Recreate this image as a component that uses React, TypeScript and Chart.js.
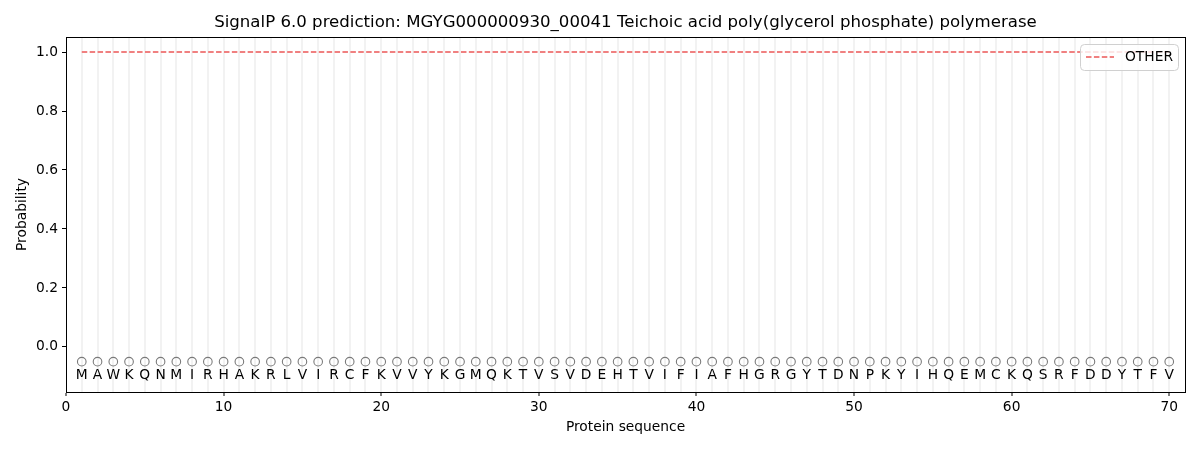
import React, { useEffect, useRef } from 'react';
import { Chart, registerables } from 'chart.js';

Chart.register(...registerables);

const TITLE = 'SignalP 6.0 prediction: MGYG000000930_00041 Teichoic acid poly(glycerol phosphate) polymerase';

const residues = [
  'M', 'A', 'W', 'K', 'Q', 'N', 'M', 'I', 'R', 'H',
  'A', 'K', 'R', 'L', 'V', 'I', 'R', 'C', 'F', 'K',
  'V', 'V', 'Y', 'K', 'G', 'M', 'Q', 'K', 'T', 'V',
  'S', 'V', 'D', 'E', 'H', 'T', 'V', 'I', 'F', 'I',
  'A', 'F', 'H', 'G', 'R', 'G', 'Y', 'T', 'D', 'N',
  'P', 'K', 'Y', 'I', 'H', 'Q', 'E', 'M', 'C', 'K',
  'Q', 'S', 'R', 'F', 'D', 'D', 'Y', 'T', 'F', 'V',
];

// probability of class OTHER per residue
const otherProb = [
  1.0, 1.0, 1.0, 1.0, 1.0, 1.0, 1.0, 1.0, 1.0, 1.0,
  1.0, 1.0, 1.0, 1.0, 1.0, 1.0, 1.0, 1.0, 1.0, 1.0,
  1.0, 1.0, 1.0, 1.0, 1.0, 1.0, 1.0, 1.0, 1.0, 1.0,
  1.0, 1.0, 1.0, 1.0, 1.0, 1.0, 1.0, 1.0, 1.0, 1.0,
  1.0, 1.0, 1.0, 1.0, 1.0, 1.0, 1.0, 1.0, 1.0, 1.0,
  1.0, 1.0, 1.0, 1.0, 1.0, 1.0, 1.0, 1.0, 1.0, 1.0,
  1.0, 1.0, 1.0, 1.0, 1.0, 1.0, 1.0, 1.0, 1.0, 1.0,
];

// open circle markers ('O' = other) under the sequence
const markerY = [
  -0.05, -0.05, -0.05, -0.05, -0.05, -0.05, -0.05, -0.05, -0.05, -0.05,
  -0.05, -0.05, -0.05, -0.05, -0.05, -0.05, -0.05, -0.05, -0.05, -0.05,
  -0.05, -0.05, -0.05, -0.05, -0.05, -0.05, -0.05, -0.05, -0.05, -0.05,
  -0.05, -0.05, -0.05, -0.05, -0.05, -0.05, -0.05, -0.05, -0.05, -0.05,
  -0.05, -0.05, -0.05, -0.05, -0.05, -0.05, -0.05, -0.05, -0.05, -0.05,
  -0.05, -0.05, -0.05, -0.05, -0.05, -0.05, -0.05, -0.05, -0.05, -0.05,
  -0.05, -0.05, -0.05, -0.05, -0.05, -0.05, -0.05, -0.05, -0.05, -0.05,
];

const letterY = -0.097;
const yTicks = [0, 0.2, 0.4, 0.6, 0.8, 1.0];
const xTickStep = 10;

const FONT = '"DejaVu Sans", sans-serif';
const LINE_COLOR = '#f08080';

const decorPlugin = {
  id: 'decor',
  afterDatasetsDraw(chart) {
    const { ctx, scales } = chart;
    const x = scales.x;
    const y = scales.y;
    ctx.save();
    // sequence letters
    ctx.fillStyle = '#000';
    ctx.font = `13.8px ${FONT}`;
    ctx.textAlign = 'center';
    ctx.textBaseline = 'middle';
    residues.forEach((r, i) => {
      ctx.fillText(r, x.getPixelForValue(i + 1), y.getPixelForValue(letterY));
    });
    ctx.restore();
  },
  afterDraw(chart) {
    const { ctx, chartArea } = chart;
    const { left, right, top, bottom } = chartArea;
    const cx = (left + right) / 2;
    ctx.save();
    // frame
    ctx.strokeStyle = '#000';
    ctx.lineWidth = 1;
    ctx.strokeRect(Math.round(left) + 0.5, Math.round(top) + 0.5, Math.round(right - left), Math.round(bottom - top));

    // title and axis labels
    ctx.fillStyle = '#000';
    ctx.textAlign = 'center';
    ctx.textBaseline = 'middle';
    ctx.font = `16.6px ${FONT}`;
    ctx.fillText(TITLE, cx, 23);
    ctx.font = `13.8px ${FONT}`;
    ctx.fillText('Protein sequence', cx, 427);
    ctx.save();
    ctx.translate(22, (top + bottom) / 2);
    ctx.rotate(-Math.PI / 2);
    ctx.fillText('Probability', 0, 0);
    ctx.restore();

    // legend
    const bx = right - 105;
    const by = top + 7;
    const bw = 98;
    const bh = 26;
    ctx.beginPath();
    ctx.roundRect(bx + 0.5, by + 0.5, bw, bh, 4);
    ctx.fillStyle = 'rgba(255,255,255,0.8)';
    ctx.fill();
    ctx.strokeStyle = '#d0d0d0';
    ctx.stroke();
    ctx.beginPath();
    ctx.setLineDash([5.5, 2.4]);
    ctx.strokeStyle = LINE_COLOR;
    ctx.lineWidth = 2;
    ctx.moveTo(bx + 6, by + 13);
    ctx.lineTo(bx + 34, by + 13);
    ctx.stroke();
    ctx.setLineDash([]);
    ctx.fillStyle = '#000';
    ctx.textAlign = 'left';
    ctx.font = `13.8px ${FONT}`;
    ctx.fillText('OTHER', bx + 45, by + 13.5);
    ctx.restore();
  },
};

const SignalPChart = () => {
  const canvasRef = useRef(null);
  const chartRef = useRef(null);

  useEffect(() => {
    document.body.style.margin = '0';
    if (!canvasRef.current) return;
    const ctx = canvasRef.current.getContext('2d');
    if (!ctx) return;

    const positions = residues.map((_, i) => i + 1);

    const config = {
      type: 'line',
      data: {
        datasets: [
          {
            label: 'OTHER',
            data: positions.map((p, i) => ({ x: p, y: otherProb[i] })),
            borderColor: LINE_COLOR,
            borderWidth: 2,
            borderDash: [5.5, 2.4],
            pointRadius: 0,
            fill: false,
            tension: 0,
          },
          {
            label: 'markers',
            data: positions.map((p, i) => ({ x: p, y: markerY[i] })),
            showLine: false,
            pointRadius: 4.3,
            pointStyle: 'circle',
            pointBackgroundColor: 'rgba(0,0,0,0)',
            pointBorderColor: '#7a7a7a',
            pointBorderWidth: 1.1,
          },
        ],
      },
      options: {
        responsive: false,
        animation: false,
        layout: { padding: { left: 0, right: 15, top: 37, bottom: 0 } },
        scales: {
          x: {
            type: 'linear',
            min: 0,
            max: 71,
            afterFit: (scale) => { scale.height = 58; },
            ticks: {
              stepSize: 1,
              autoSkip: false,
              maxRotation: 0,
              padding: 3,
              color: '#000',
              font: { family: FONT, size: 13.8 },
              callback: (v) => (v % xTickStep === 0 ? String(v) : ''),
            },
            grid: {
              color: (c) => (c.tick && c.tick.value >= 1 && c.tick.value <= residues.length ? 'rgba(0,0,0,0.05)' : 'rgba(0,0,0,0)'),
              lineWidth: 2,
              tickLength: 4,
              tickColor: (c) => (c.tick && c.tick.value % xTickStep === 0 ? '#000' : 'rgba(0,0,0,0)'),
              tickWidth: 1,
            },
            border: { display: true, color: '#000', width: 1 },
          },
          y: {
            min: -0.153,
            max: 1.051,
            afterFit: (scale) => { scale.width = 66; },
            afterBuildTicks: (scale) => { scale.ticks = yTicks.map((v) => ({ value: v })); },
            ticks: {
              padding: 4,
              color: '#000',
              font: { family: FONT, size: 13.8 },
              callback: (v) => Number(v).toFixed(1),
            },
            grid: {
              drawOnChartArea: false,
              tickLength: 4,
              tickColor: '#000',
            },
            border: { display: true, color: '#000', width: 1 },
          },
        },
        plugins: {
          legend: { display: false },
          title: { display: false },
          tooltip: { enabled: false },
        },
      },
      plugins: [decorPlugin],
    };

    chartRef.current = new Chart(ctx, config);

    return () => {
      if (chartRef.current) {
        chartRef.current.destroy();
        chartRef.current = null;
      }
    };
  }, []);

  return <canvas ref={canvasRef} width={1200} height={450} style={{ display: 'block' }} />;
};

export default function App() {
  return <SignalPChart />;
}
